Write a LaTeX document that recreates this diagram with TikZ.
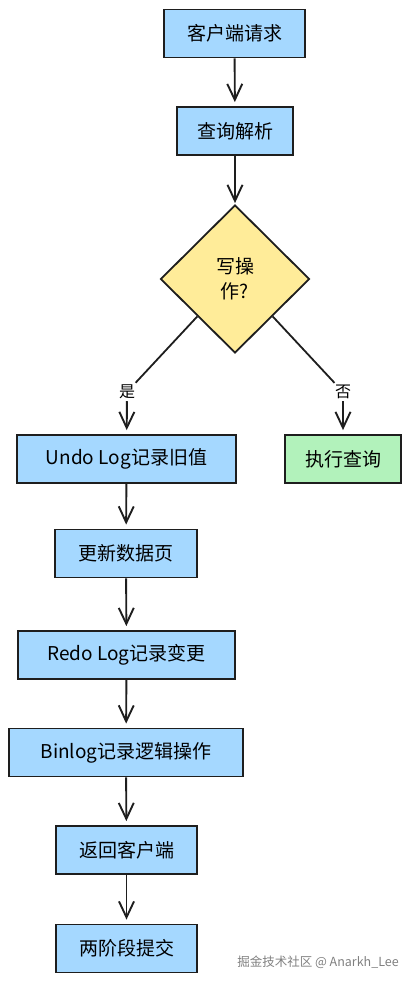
\documentclass[tikz,border=0pt]{standalone}
\usepackage{fontspec}
\newfontfamily\cjk{Noto Sans CJK SC}
\usetikzlibrary{arrows.meta, shapes.geometric}

\definecolor{inkgray}{HTML}{1E1E1E}
\definecolor{boxblue}{HTML}{A5D8FF}
\definecolor{decyellow}{HTML}{FFEC99}
\definecolor{execgreen}{HTML}{B2F2BB}

\tikzset{
    stepbox/.style={draw=inkgray, line width=1.8pt, fill=boxblue, minimum height=48pt,
        inner sep=0pt, font=\cjk\fontsize{19}{22}\selectfont},
    flow/.style={draw=inkgray, line width=1.9pt, -{Straight Barb[length=16pt, width=15pt]}, shorten >=4pt},
    branch/.style={draw=inkgray, line width=1.8pt},
    choice/.style={font=\cjk\fontsize{16}{18}\selectfont, inner sep=2pt}
}

\begin{document}
\begin{tikzpicture}[x=1pt, y=-1pt]
    \useasboundingbox (0,0) rectangle (410,982);

    % Request and parsing
    \node[stepbox, minimum width=141pt] (req) at (234.5,33.5) {客户端请求};
    \node[stepbox, minimum width=116pt] (parse) at (235,131) {查询解析};

    % Decision
    \node[diamond, draw=inkgray, line width=1.8pt, fill=decyellow, minimum width=149pt,
        minimum height=148pt, inner sep=0pt, align=center,
        font=\cjk\fontsize{19}{25}\selectfont] (dec) at (235,279) {写操\\作?};

    % Branch labels
    \node[choice] (yes) at (127,392) {是};
    \node[choice] (no) at (343,392) {否};

    % Write path
    \node[stepbox, minimum width=219pt] (undo) at (126.5,459) {Undo Log记录旧值};
    \node[stepbox, minimum width=142pt] (page) at (126,553.5) {更新数据页};
    \node[stepbox, minimum width=217pt] (redo) at (126.5,655) {Redo Log记录变更};
    \node[stepbox, minimum width=234pt] (binlog) at (126,752.5) {Binlog记录逻辑操作};
    \node[stepbox, minimum width=141pt] (ret) at (126.5,850) {返回客户端};
    \node[stepbox, minimum width=141pt] (commit) at (126.5,948.5) {两阶段提交};

    % Read path
    \node[stepbox, fill=execgreen, minimum width=116pt] (exec) at (343,459) {执行查询};

    % Connectors
    \draw[flow] (req) -- (parse);
    \draw[flow, shorten >=1pt] (parse) -- (dec);
    \draw[branch] (dec.south west) -- (yes);
    \draw[branch] (dec.south east) -- (no);
    \draw[flow] (yes) -- (undo);
    \draw[flow] (no) -- (exec);
    \draw[flow] (undo) -- (page);
    \draw[flow] (page) -- (redo);
    \draw[flow] (redo) -- (binlog);
    \draw[flow] (binlog) -- (ret);
    \draw[flow] (ret) -- (commit);

    % Watermark
    \node[text=gray, font=\cjk\fontsize{12.5}{14}\selectfont, inner sep=0pt] (mark) at (318,962) {掘金技术社区 @ Anarkh\_Lee};
\end{tikzpicture}
\end{document}
